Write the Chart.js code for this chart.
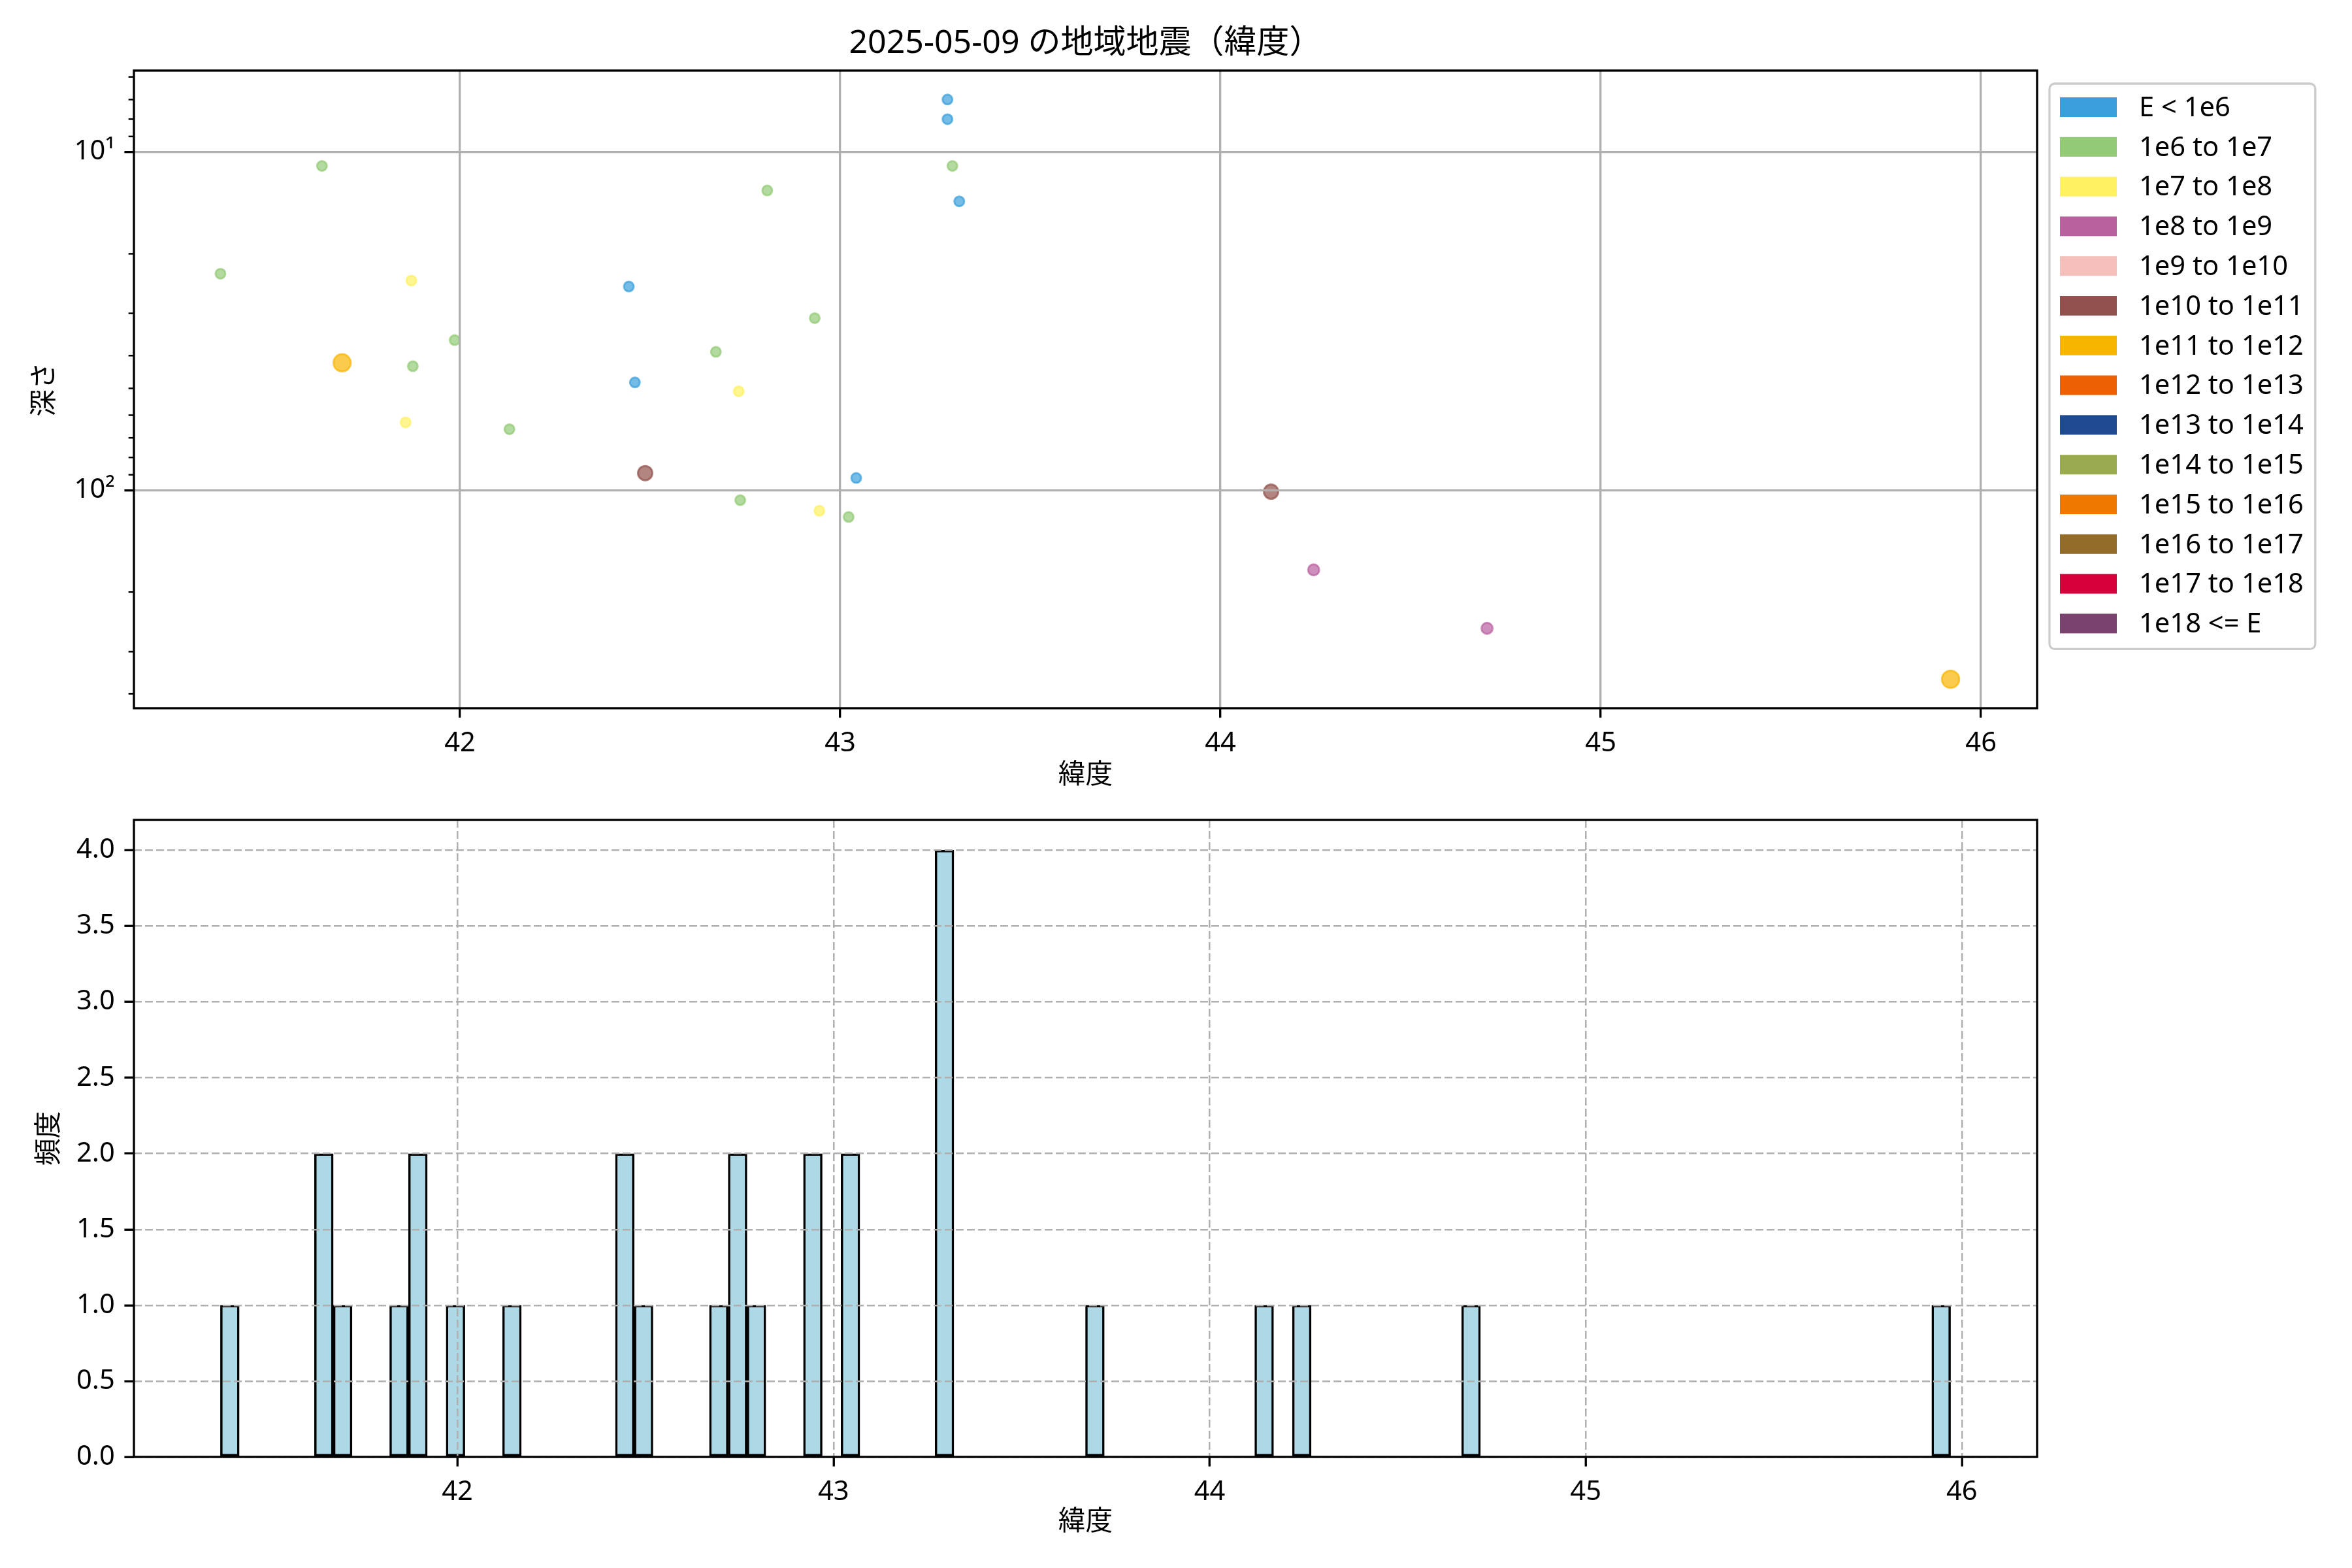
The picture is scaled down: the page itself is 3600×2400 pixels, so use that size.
<!DOCTYPE html>
<html>
<head>
<meta charset="utf-8">
<script src="https://cdn.jsdelivr.net/npm/chart.js@4.4.1/dist/chart.umd.min.js"></script>
<style>
  html, body { margin: 0; padding: 0; background: #fff; }
  #wrap { position: relative; width: 3600px; height: 2400px; background: #fff; }
  canvas { position: absolute; left: 0; }
</style>
</head>
<body>
<div id="wrap">
  <canvas id="scatter-canvas" width="3600" height="1240" style="top:0;width:3600px;height:1240px"></canvas>
  <canvas id="hist-canvas" width="3600" height="1160" style="top:1240px;width:3600px;height:1160px"></canvas>
</div>
<script>
const chartTitle = '2025-05-09 の地域地震（緯度）';
const latLabel = '緯度';
const depthLabel = '深さ';
const freqLabel = '頻度';

// quakes drawn on the depth plot
const quakeLat = [41.37, 41.637, 41.69, 41.872, 41.876, 41.857, 41.986, 42.13, 42.444, 42.46,
    42.487, 42.673, 42.733, 42.737, 42.808, 42.933, 42.945, 43.022, 43.042, 43.282,
    43.282, 43.295, 43.313, 44.133, 44.245, 44.701, 45.92];
const quakeDepth = [22.9, 11, 42, 24, 43, 63, 36, 66, 25, 48,
    89, 39, 51, 107, 13, 31, 115, 120, 92, 7,
    8, 11, 14, 101, 172, 256, 362];
const quakeClass = [1, 1, 6, 2, 1, 2, 1, 1, 0, 0,
    5, 1, 2, 1, 1, 1, 2, 1, 0, 0,
    0, 1, 0, 5, 3, 3, 6];

// histogram bins (left edge) and counts
const binLeft = [41.37, 41.62, 41.67, 41.82, 41.87, 41.97, 42.12, 42.42, 42.47, 42.67,
    42.72, 42.77, 42.92, 43.02, 43.27, 43.67, 44.12, 44.22, 44.67, 45.92];
const binCount = [1, 2, 1, 1, 2, 1, 1, 2, 1, 1,
    2, 1, 2, 2, 4, 1, 1, 1, 1, 1];
const binWidth = 0.05;

const latTicks = [42, 43, 44, 45, 46];
const depthMajor = [10, 100];
const depthMinor = [6, 7, 8, 9, 20, 30, 40, 50, 60, 70, 80, 90, 200, 300, 400];
const depthTickText = {10: '10¹', 100: '10²'};
const freqTicks = [0, 0.5, 1, 1.5, 2, 2.5, 3, 3.5, 4];

const classLabels = ['E < 1e6', '1e6 to 1e7', '1e7 to 1e8', '1e8 to 1e9', '1e9 to 1e10',
    '1e10 to 1e11', '1e11 to 1e12', '1e12 to 1e13', '1e13 to 1e14', '1e14 to 1e15',
    '1e15 to 1e16', '1e16 to 1e17', '1e17 to 1e18', '1e18 <= E'];
const classColors = ['#3a9fdb', '#93ca76', '#fff162', '#b9609f', '#f5bfbb',
    '#92514c', '#f8b500', '#ec6104', '#1e4a8f', '#9aab4f',
    '#ee7800', '#946c2a', '#d7003a', '#7a426f'];
const classRadius = [7.5, 7.5, 7.5, 8.5, 9.5, 11, 13.2, 14, 14, 14, 14, 14, 14, 14];

const fontFamily = '"Noto Sans", "Noto Sans CJK JP", sans-serif';
const pt = 300 / 72;
const fontSize = 10 * pt;

Chart.defaults.font.family = fontFamily;
Chart.defaults.font.size = fontSize;
Chart.defaults.color = '#000';

function rgba(hex, a) {
    const n = parseInt(hex.slice(1), 16);
    return 'rgba(' + (n >> 16) + ',' + ((n >> 8) & 255) + ',' + (n & 255) + ',' + a + ')';
}

function margin(lo, hi) {
    const pad = (hi - lo) * 0.05;
    return [lo - pad, hi + pad];
}

// matplotlib-like box around the axes
const frame = {
    id: 'frame',
    afterDraw(chart) {
        const {ctx, chartArea: a} = chart;
        ctx.save();
        ctx.strokeStyle = '#000';
        ctx.lineWidth = 0.8 * pt;
        ctx.strokeRect(a.left, a.top, a.right - a.left, a.bottom - a.top);
        ctx.restore();
    }
};

const minorTicks = {
    id: 'minorTicks',
    afterDraw(chart) {
        const scale = chart.scales.y;
        const {ctx, chartArea: a} = chart;
        ctx.save();
        ctx.strokeStyle = '#000';
        ctx.lineWidth = 0.6 * pt;
        depthMinor.filter(v => v >= scale.min && v <= scale.max).forEach(v => {
            const y = scale.getPixelForValue(v);
            ctx.beginPath();
            ctx.moveTo(a.left - 2 * pt, y);
            ctx.lineTo(a.left, y);
            ctx.stroke();
        });
        ctx.restore();
    }
};

const sideLegend = {
    id: 'sideLegend',
    afterDraw(chart) {
        const {ctx, chartArea: a} = chart;
        const sets = chart.data.datasets;
        const rowGap = 60.8;
        const left = a.right + 19;
        const top = a.top + 20;
        ctx.save();
        ctx.font = fontSize + 'px ' + fontFamily;
        const textW = Math.max(...sets.map(ds => ctx.measureText(ds.label).width));
        const w = 137 + textW + 18;
        const h = 36 + rowGap * (sets.length - 1) + 39;
        ctx.beginPath();
        ctx.roundRect(left, top, w, h, 8);
        ctx.fillStyle = 'rgba(255,255,255,0.8)';
        ctx.fill();
        ctx.lineWidth = 0.8 * pt;
        ctx.strokeStyle = '#cccccc';
        ctx.stroke();
        sets.forEach((ds, i) => {
            const cy = top + 36 + rowGap * i;
            ctx.fillStyle = ds.legendColor;
            ctx.fillRect(left + 16, cy - 15, 87, 30);
            ctx.fillStyle = '#000';
            ctx.textBaseline = 'middle';
            ctx.textAlign = 'left';
            ctx.fillText(ds.label, left + 137, cy + 2);
        });
        ctx.restore();
    }
};

function scatterChart() {
    const canvas = document.getElementById('scatter-canvas');
    const xr = margin(Math.min(...quakeLat), Math.max(...quakeLat));
    const lmin = Math.log10(Math.min(...quakeDepth));
    const lmax = Math.log10(Math.max(...quakeDepth));
    const lr = margin(lmin, lmax);

    const datasets = classLabels.map((label, k) => {
        const pts = [];
        quakeLat.forEach((lat, i) => {
            if (quakeClass[i] === k) pts.push({x: lat, y: quakeDepth[i]});
        });
        return {
            label: label,
            legendColor: classColors[k],
            data: pts,
            backgroundColor: rgba(classColors[k], 0.7),
            borderColor: rgba(classColors[k], 0.7),
            borderWidth: 3,
            pointRadius: classRadius[k]
        };
    });

    return new Chart(canvas, {
        type: 'scatter',
        data: {datasets: datasets},
        options: {
            responsive: false,
            animation: false,
            devicePixelRatio: 1,
            events: [],
            layout: {padding: {top: 0, left: 0, right: 482, bottom: 0}},
            plugins: {
                legend: {display: false},
                tooltip: {enabled: false},
                title: {
                    display: true,
                    text: chartTitle,
                    fullSize: false,
                    font: {size: 12 * pt, weight: 'normal'},
                    padding: {top: 37, bottom: 11}
                }
            },
            scales: {
                x: {
                    type: 'linear',
                    min: xr[0],
                    max: xr[1],
                    z: 1,
                    afterBuildTicks: s => { s.ticks = latTicks.map(v => ({value: v})); },
                    afterFit: s => { s.height = 156; s.paddingLeft = 0; s.paddingRight = 0; },
                    ticks: {padding: 3.5 * pt, maxRotation: 0, callback: v => String(v)},
                    grid: {z: 1, color: '#b0b0b0', lineWidth: 0.8 * pt, tickLength: 3.5 * pt,
                        tickColor: '#000', tickWidth: 0.8 * pt},
                    border: {display: false},
                    title: {display: true, text: latLabel, padding: {bottom: 28}}
                },
                y: {
                    type: 'logarithmic',
                    reverse: true,
                    min: Math.pow(10, lr[0]),
                    max: Math.pow(10, lr[1]),
                    z: 1,
                    afterBuildTicks: s => { s.ticks = depthMajor.map(v => ({value: v})); },
                    afterFit: s => { s.width = 205; s.paddingTop = 0; s.paddingBottom = 0; },
                    ticks: {padding: 3.5 * pt, callback: v => depthTickText[v] || ''},
                    grid: {z: 1, color: '#b0b0b0', lineWidth: 0.8 * pt, tickLength: 3.5 * pt,
                        tickColor: '#000', tickWidth: 0.8 * pt},
                    border: {display: false},
                    title: {display: true, text: depthLabel, padding: {top: 44}}
                }
            }
        },
        plugins: [minorTicks, frame, sideLegend]
    });
}

function histChart() {
    const canvas = document.getElementById('hist-canvas');
    const xr = margin(binLeft[0], binLeft[binLeft.length - 1] + binWidth);
    const ymax = Math.max(...binCount) * 1.05;

    return new Chart(canvas, {
        type: 'bar',
        data: {
            datasets: [{
                label: freqLabel,
                data: binLeft.map((b, i) => ({x: b + binWidth / 2, y: binCount[i]})),
                backgroundColor: '#add8e6',
                borderColor: '#000',
                borderWidth: 3.5,
                borderSkipped: false,
                barPercentage: 1,
                categoryPercentage: 1,
                grouped: false
            }]
        },
        options: {
            responsive: false,
            animation: false,
            devicePixelRatio: 1,
            events: [],
            layout: {padding: {top: 15, left: 0, right: 482, bottom: 0}},
            plugins: {legend: {display: false}, tooltip: {enabled: false}},
            scales: {
                x: {
                    type: 'linear',
                    offset: false,
                    min: xr[0],
                    max: xr[1],
                    z: 1,
                    afterBuildTicks: s => { s.ticks = latTicks.map(v => ({value: v})); },
                    afterFit: s => { s.height = 170; s.paddingLeft = 0; s.paddingRight = 0; },
                    ticks: {padding: 3.5 * pt, maxRotation: 0, callback: v => String(v)},
                    grid: {z: 1, offset: false, color: '#b0b0b0', lineWidth: 2.5, tickLength: 3.5 * pt,
                        tickColor: '#000', tickWidth: 0.8 * pt, tickBorderDash: []},
                    border: {display: false, dash: [12, 5]},
                    title: {display: true, text: latLabel, padding: {bottom: 45}}
                },
                y: {
                    type: 'linear',
                    min: 0,
                    max: ymax,
                    z: 1,
                    afterBuildTicks: s => { s.ticks = freqTicks.map(v => ({value: v})); },
                    afterFit: s => { s.width = 205; s.paddingTop = 0; s.paddingBottom = 0; },
                    ticks: {padding: 3.5 * pt, callback: v => v.toFixed(1)},
                    grid: {z: 1, color: '#b0b0b0', lineWidth: 2.5, tickLength: 3.5 * pt,
                        tickColor: '#000', tickWidth: 0.8 * pt, tickBorderDash: []},
                    border: {display: false, dash: [12, 5]},
                    title: {display: true, text: freqLabel, padding: {top: 51}}
                }
            }
        },
        plugins: [frame]
    });
}

scatterChart();
histChart();
</script>
</body>
</html>
